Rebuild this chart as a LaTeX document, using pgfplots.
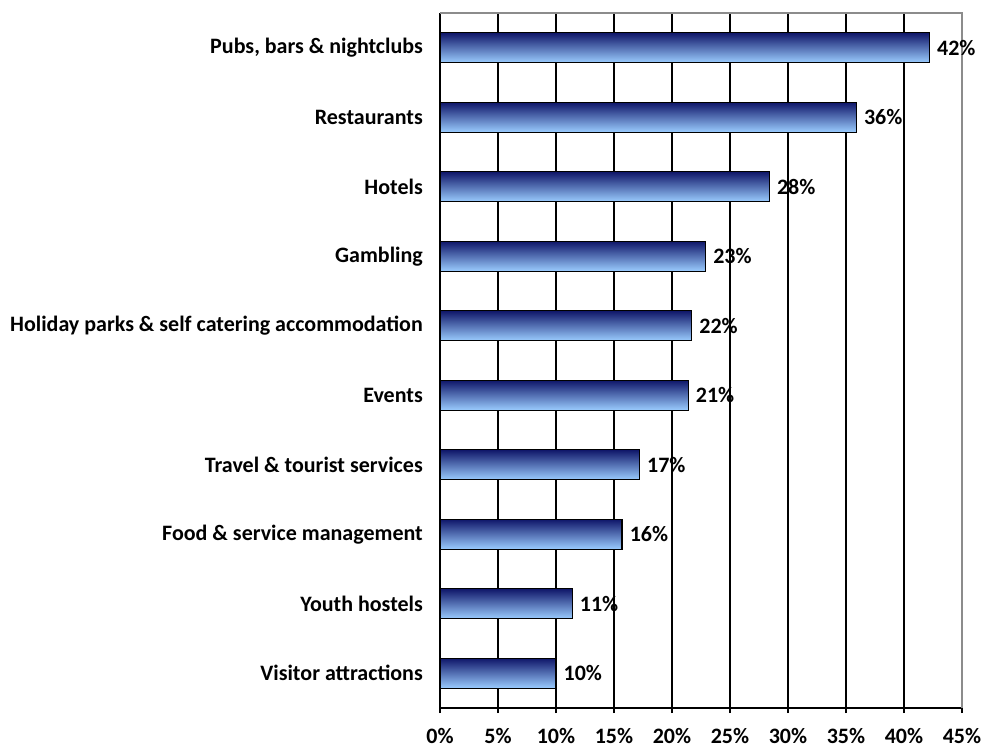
\documentclass[border=0pt]{standalone}
\usepackage{fontspec}
\setmainfont{Carlito}
\usepackage{pgfplots}
\pgfplotsset{compat=1.18}
\definecolor{barTop}{RGB}{15,22,105}
\definecolor{barMid}{RGB}{130,168,228}
\definecolor{barBot}{RGB}{155,205,255}
\definecolor{frameGray}{RGB}{140,140,140}
\pgfplotsset{onebar/.style={draw=black, line width=1.3pt, top color=barTop, middle color=barMid, bottom color=barBot}}
\begin{document}
\begin{tikzpicture}
\begin{axis}[
  scale only axis, width=522pt, height=695pt,
  xmin=0, xmax=45, ymin=-0.5, ymax=9.5,
  axis lines*=left,
  axis line style={black, line width=1.4pt},
  clip=false,
  font=\bfseries\fontsize{22}{26}\selectfont,
  xtick={0,5,...,45},
  xticklabels={0\%,5\%,10\%,15\%,20\%,25\%,30\%,35\%,40\%,45\%},
  tick align=outside,
  x tick style={black, line width=1.4pt},
  xmajorgrids, grid style={black, line width=1.4pt},
  major tick length=5pt,
  xticklabel style={inner sep=0pt, anchor=north, yshift=-15pt},
  ytick={0,...,9},
  yticklabels={Visitor attractions, Youth hostels, Food \& service management, Travel \& tourist services, Events, Holiday parks \& self catering accommodation, Gambling, Hotels, Restaurants, {Pubs, bars \& nightclubs}},
  y tick style={draw=none},
  minor ytick={-0.5,0.5,...,9.5},
  minor y tick style={black, line width=1.4pt},
  minor tick length=7pt,
  yticklabel style={inner sep=0pt, anchor=east, xshift=-12pt},
  xbar, bar width=30pt, bar shift=0pt,
  nodes near coords,
  point meta=explicit symbolic,
  nodes near coords style={anchor=west, inner sep=0pt, xshift=7pt, font=\bfseries\fontsize{22}{26}\selectfont},
]
\addplot[onebar] coordinates {(10.0,0) [10\%]};
\addplot[onebar] coordinates {(11.4,1) [11\%]};
\addplot[onebar] coordinates {(15.7,2) [16\%]};
\addplot[onebar] coordinates {(17.2,3) [17\%]};
\addplot[onebar] coordinates {(21.4,4) [21\%]};
\addplot[onebar] coordinates {(21.7,5) [22\%]};
\addplot[onebar] coordinates {(22.9,6) [23\%]};
\addplot[onebar] coordinates {(28.4,7) [28\%]};
\addplot[onebar] coordinates {(35.9,8) [36\%]};
\addplot[onebar] coordinates {(42.2,9) [42\%]};
\draw[frameGray, line width=1.6pt] (rel axis cs:0,1) -- (rel axis cs:1,1) -- (rel axis cs:1,0);
\end{axis}
\pgfresetboundingbox
\path ([xshift=-440pt,yshift=-42pt]current axis.south west) rectangle ([xshift=20pt,yshift=13pt]current axis.north east);
\end{tikzpicture}
\end{document}
